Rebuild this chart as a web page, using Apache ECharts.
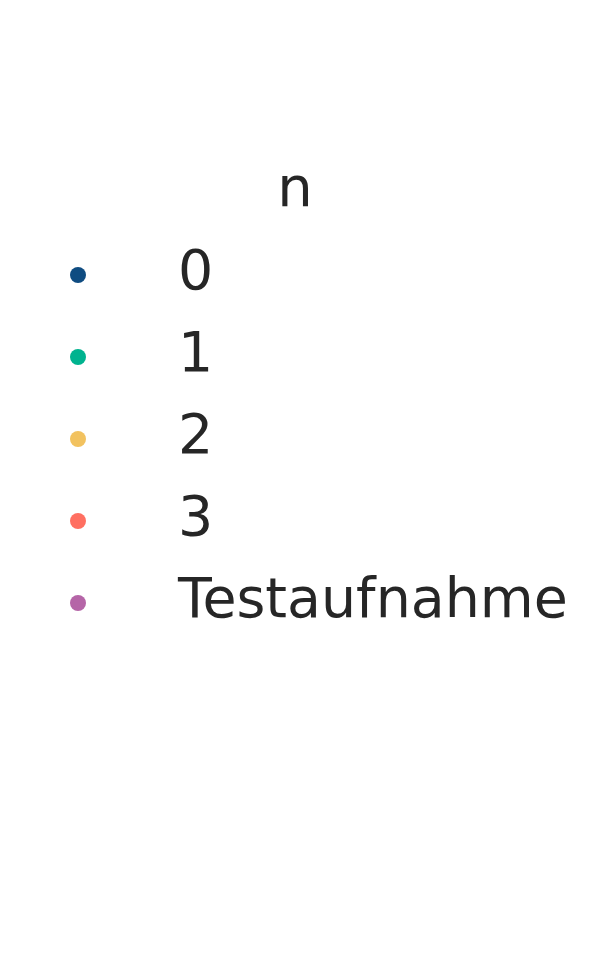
<!DOCTYPE html>
<html>
<head>
<meta charset="utf-8">
<script src="https://cdn.jsdelivr.net/npm/echarts@6/dist/echarts.min.js"></script>
<style>
html,body{margin:0;padding:0;background:#fff;}
#chart{width:590px;height:960px;}
</style>
</head>
<body>
<div id="chart"></div>
<script>
const legendTitle = 'n';
const categories = ['0', '1', '2', '3', 'Testaufnahme'];
const colors = ['#0f4c81', '#00b38f', '#f2c25f', '#ff6f61', '#b565a7'];

const chart = echarts.init(document.getElementById('chart'), null, {renderer: 'canvas'});
const option = {
  backgroundColor: '#ffffff',
  animation: false,
  title: {
    text: legendTitle,
    left: 'center',
    top: 158,
    textStyle: {fontFamily: 'DejaVu Sans', fontSize: 56, fontWeight: 'normal', color: '#262626'}
  },
  grid: {show: false, left: 0, right: 0, top: 0, bottom: 0},
  xAxis: {show: false, type: 'value'},
  yAxis: {show: false, type: 'value'},
  legend: {
    orient: 'vertical',
    left: 70,
    top: 234,
    padding: 0,
    itemGap: 0,
    itemWidth: 16,
    itemHeight: 16,
    icon: 'circle',
    data: categories,
    itemStyle: {opacity: 1},
    textStyle: {
      fontFamily: 'DejaVu Sans',
      fontSize: 55.4,
      color: '#262626',
      lineHeight: 73,
      padding: [0, 0, 9, 87]
    }
  },
  series: categories.map((name, i) => ({
    name: name,
    type: 'scatter',
    data: [],
    itemStyle: {color: colors[i], opacity: 1}
  }))
};
chart.setOption(option);
</script>
</body>
</html>
